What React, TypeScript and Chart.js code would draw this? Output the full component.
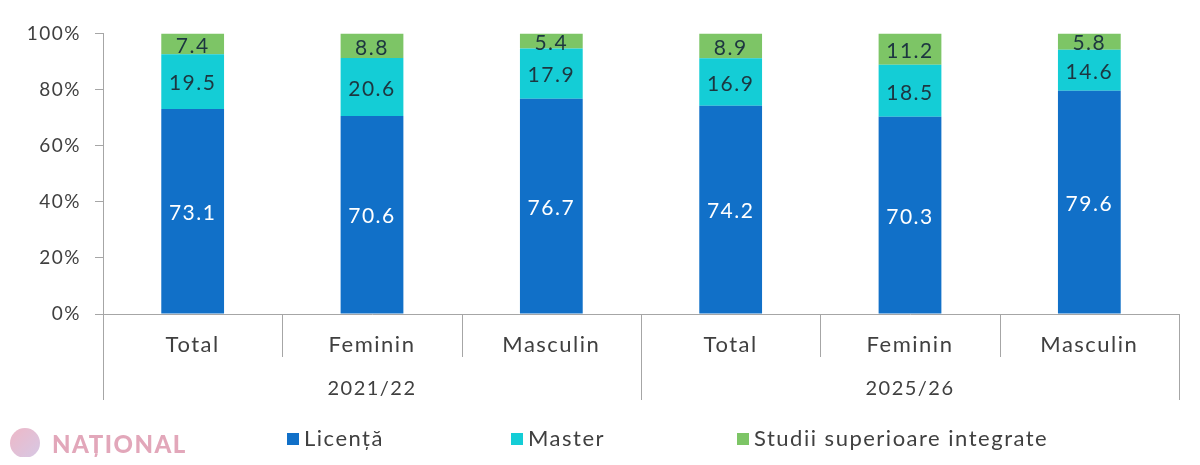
import { Chart, registerables, Plugin } from "chart.js";
import { useEffect, useRef } from "react";

Chart.register(...registerables);

const categories = ["Total", "Feminin", "Masculin", "Total", "Feminin", "Masculin"];
const years = ["2021/22", "2025/26"];
const groupSize = 3;

const seriesNames = ["Licență", "Master", "Studii superioare integrate"];
const licenta = [73.1, 70.6, 76.7, 74.2, 70.3, 79.6];
const master = [19.5, 20.6, 17.9, 16.9, 18.5, 14.6];
const integrate = [7.4, 8.8, 5.4, 8.9, 11.2, 5.8];

const yTicks = [0, 20, 40, 60, 80, 100];

const colors = ["#1170C8", "#14CDD6", "#7DC566"];
const labelColors = ["#ffffff", "#1d3640", "#1d3640"];
const textColor = "#404040";
const lineColor = "#A6A6A6";
const FONT = "Lato";
const SPACING = "1.5px";

// the original font is wider than Lato, so widen everything a bit
const wideText: Plugin<"bar"> = {
  id: "wideText",
  beforeDraw(chart) {
    (chart.ctx as any).letterSpacing = SPACING;
  },
};

// value labels centred in each stacked segment
const valueLabels: Plugin<"bar"> = {
  id: "valueLabels",
  afterDatasetsDraw(chart) {
    const { ctx } = chart;
    ctx.save();
    (ctx as any).letterSpacing = SPACING;
    ctx.font = `21px ${FONT}`;
    ctx.textAlign = "center";
    ctx.textBaseline = "middle";
    chart.data.datasets.forEach((ds, di) => {
      const meta = chart.getDatasetMeta(di);
      meta.data.forEach((el: any, i) => {
        const v = ds.data[i] as number;
        ctx.fillStyle = labelColors[di];
        ctx.fillText(v.toFixed(1), el.x, (el.y + el.base) / 2 + 2);
      });
    });
    ctx.restore();
  },
};

// two-level category axis: separators and year labels
const groupAxis: Plugin<"bar"> = {
  id: "groupAxis",
  afterDraw(chart) {
    const { ctx, chartArea } = chart;
    const x = chart.scales.x;
    const half = (x.getPixelForValue(1) - x.getPixelForValue(0)) / 2;
    const bottom = chartArea.bottom;
    ctx.save();
    ctx.strokeStyle = lineColor;
    ctx.lineWidth = 1;
    for (let i = 0; i <= categories.length; i++) {
      const px =
        i < categories.length
          ? x.getPixelForValue(i) - half
          : x.getPixelForValue(i - 1) + half;
      const len = i % groupSize === 0 ? 86 : 43;
      const sx = Math.round(px) + 0.5;
      ctx.beginPath();
      ctx.moveTo(sx, bottom);
      ctx.lineTo(sx, bottom + len);
      ctx.stroke();
    }
    (ctx as any).letterSpacing = SPACING;
    ctx.fillStyle = textColor;
    ctx.font = `20px ${FONT}`;
    ctx.textAlign = "center";
    ctx.textBaseline = "middle";
    years.forEach((y, g) => {
      const first = x.getPixelForValue(g * groupSize) - half;
      const last = x.getPixelForValue(g * groupSize + groupSize - 1) + half;
      ctx.fillText(y, (first + last) / 2, bottom + 75);
    });
    ctx.restore();
  },
};

// legend drawn at fixed slots under the axis
const legendStarts = [279, 503, 729];
const customLegend: Plugin<"bar"> = {
  id: "customLegend",
  afterDraw(chart) {
    const { ctx } = chart;
    const cy = 431;
    ctx.save();
    (ctx as any).letterSpacing = SPACING;
    ctx.font = `22px ${FONT}`;
    ctx.textBaseline = "middle";
    ctx.textAlign = "left";
    chart.data.datasets.forEach((ds, di) => {
      const x0 = legendStarts[di];
      ctx.fillStyle = colors[di];
      ctx.fillRect(x0, cy - 6, 12, 12);
      ctx.fillStyle = textColor;
      ctx.fillText(ds.label as string, x0 + 17, cy);
    });
    ctx.restore();
  },
};

function StackedChart() {
  const chartRef = useRef<HTMLCanvasElement>(null);
  const chartInstance = useRef<Chart | null>(null);

  useEffect(() => {
    if (!chartRef.current) return;
    const ctx = chartRef.current.getContext("2d");
    if (!ctx) return;
    if (chartInstance.current) chartInstance.current.destroy();

    chartInstance.current = new Chart(ctx, {
      type: "bar",
      data: {
        labels: categories,
        datasets: [licenta, master, integrate].map((d, i) => ({
          label: seriesNames[i],
          data: d,
          backgroundColor: colors[i],
          borderWidth: 0,
          barPercentage: 0.35,
          categoryPercentage: 1,
        })),
      },
      options: {
        animation: false,
        responsive: true,
        maintainAspectRatio: false,
        layout: { padding: { top: 25, right: 13, bottom: 0, left: 0 } },
        plugins: {
          legend: { display: false },
          tooltip: { enabled: false },
        },
        scales: {
          x: {
            stacked: true,
            grid: { display: false, drawTicks: false },
            border: { display: true, color: lineColor, width: 1 },
            ticks: {
              color: textColor,
              font: { family: FONT, size: 22 },
              padding: 18,
              maxRotation: 0,
            },
            afterFit: (scale) => {
              scale.height = 143;
            },
          },
          y: {
            stacked: true,
            min: yTicks[0],
            max: yTicks[yTicks.length - 1],
            grid: {
              drawOnChartArea: false,
              drawTicks: true,
              tickLength: 8,
              color: lineColor,
            },
            border: { display: true, color: lineColor, width: 1 },
            afterBuildTicks: (scale) => {
              scale.ticks = yTicks.map((v) => ({ value: v }));
            },
            ticks: {
              color: textColor,
              font: { family: FONT, size: 19 },
              padding: 14,
              callback: (v) => `${v}%`,
            },
            afterFit: (scale) => {
              scale.width = 95;
            },
          },
        },
      },
      plugins: [wideText, valueLabels, groupAxis, customLegend],
    });

    return () => {
      if (chartInstance.current) {
        chartInstance.current.destroy();
        chartInstance.current = null;
      }
    };
  }, []);

  return (
    <div style={{ position: "relative", width: 1184, height: 449 }}>
      <canvas ref={chartRef}></canvas>
      <div
        style={{
          position: "absolute",
          left: 2,
          top: 420,
          display: "flex",
          alignItems: "center",
          gap: 12,
          opacity: 0.75,
          pointerEvents: "none",
        }}
      >
        <div
          style={{
            width: 30,
            height: 30,
            borderRadius: "50%",
            background: "linear-gradient(135deg, #e8a0b4, #c9b6dc)",
          }}
        />
        <span
          style={{
            fontFamily: FONT,
            fontWeight: 900,
            fontSize: 24,
            letterSpacing: 1.5,
            color: "#d98aa3",
          }}
        >
          NAȚIONAL
        </span>
      </div>
    </div>
  );
}

export default function App() {
  return <StackedChart />;
}
